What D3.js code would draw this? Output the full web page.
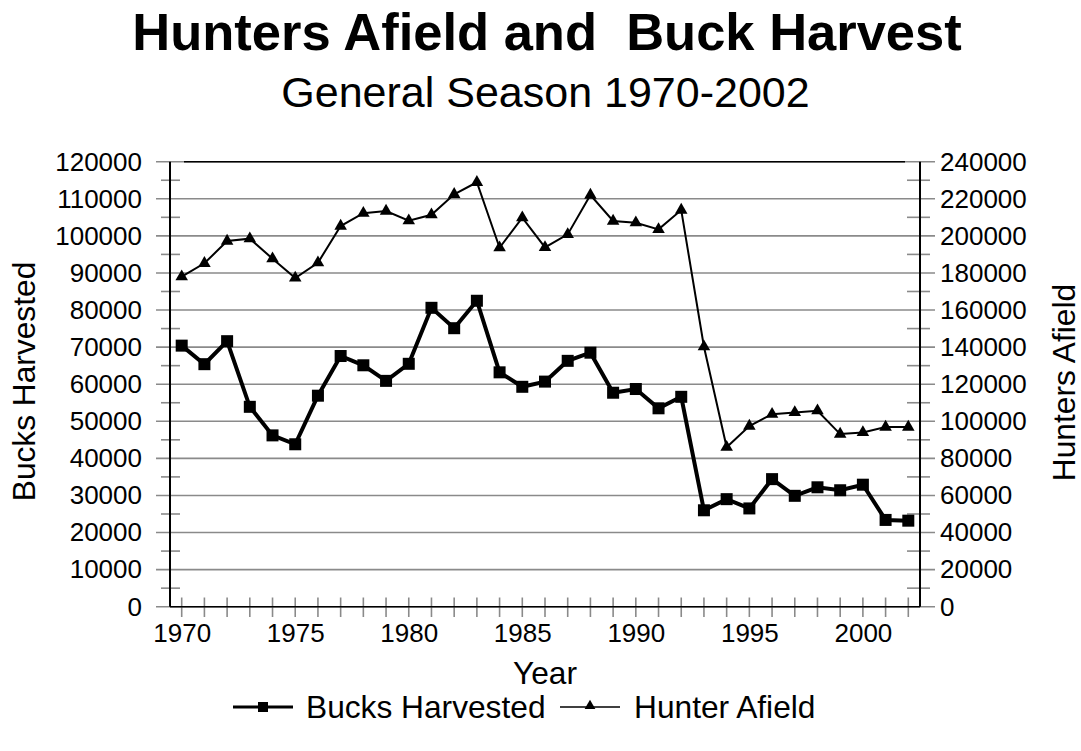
<!DOCTYPE html>
<html>
<head>
<meta charset="utf-8">
<script src="https://cdn.jsdelivr.net/npm/d3@7"></script>
<style>
  html, body { margin: 0; padding: 0; background: #fff; }
  svg { display: block; font-family: "Liberation Sans", Arial, sans-serif; }
  text { white-space: pre; }
</style>
</head>
<body>
<svg id="chart" width="1081" height="751"></svg>
<script>
// ---- data ----
const years = d3.range(1970, 2003);
const bucksHarvested = [70400, 65400, 71600, 53900, 46200, 43800, 56900, 67600, 65100, 60900,
                        65500, 80600, 75100, 82500, 63200, 59300, 60700, 66300, 68500, 57700,
                        58700, 53500, 56600, 26000, 29000, 26500, 34400, 29900, 32200, 31400,
                        32900, 23400, 23200];
const huntersAfield = [178000, 185200, 197200, 198500, 187700, 177300, 185500, 205300, 212200, 213400,
                       208200, 211400, 222400, 228900, 193600, 209800, 193800, 200800, 222000, 208000,
                       207100, 203500, 213900, 140200, 86000, 97400, 103800, 104800, 105700, 93100,
                       94000, 96900, 96900];
const leftTicks = d3.range(0, 120001, 10000);
const leftMinor = d3.range(5000, 120000, 10000);
const rightTicks = d3.range(0, 240001, 20000);
const rightMinor = d3.range(10000, 240000, 20000);
const yearLabels = [1970, 1975, 1980, 1985, 1990, 1995, 2000];
const titleText = "Hunters Afield and  Buck Harvest";
const subtitleText = "General Season 1970-2002";
const seriesNames = ["Bucks Harvested", "Hunter Afield"];

// ---- layout ----
const svg = d3.select("#chart");
const axL = 170, axR = 920, plotTop = 161.7, plotBottom = 606.7;
const x = d3.scaleLinear().domain([1970, 2002]).range([181.7, 908.3]);
const yL = d3.scaleLinear().domain([0, 120000]).range([plotBottom, plotTop]);
const yR = d3.scaleLinear().domain([0, 240000]).range([plotBottom, plotTop]);
const grey = "#8a8a8a";

// titles
svg.append("text").attr("x", 547).attr("y", 50).attr("text-anchor", "middle")
  .attr("xml:space", "preserve")
  .attr("font-size", 52.5).attr("font-weight", "bold").text(titleText);
svg.append("text").attr("x", 545.5).attr("y", 107).attr("text-anchor", "middle")
  .attr("font-size", 43).text(subtitleText);

// gridlines
svg.append("g").selectAll("line").data(leftTicks).join("line")
  .attr("x1", 156).attr("x2", 935)
  .attr("y1", d => yL(d)).attr("y2", d => yL(d))
  .attr("stroke", grey).attr("stroke-width", 1.6);

// top frame line
svg.append("line").attr("x1", 184).attr("x2", 905).attr("y1", plotTop).attr("y2", plotTop)
  .attr("stroke", "#000").attr("stroke-width", 1.6);

// minor ticks
svg.append("g").selectAll("line").data(leftMinor).join("line")
  .attr("x1", 161).attr("x2", 180)
  .attr("y1", d => yL(d)).attr("y2", d => yL(d))
  .attr("stroke", grey).attr("stroke-width", 1.6);
svg.append("g").selectAll("line").data(rightMinor).join("line")
  .attr("x1", 907).attr("x2", 930)
  .attr("y1", d => yR(d)).attr("y2", d => yR(d))
  .attr("stroke", grey).attr("stroke-width", 1.6);

// x year ticks
svg.append("g").selectAll("line").data(years).join("line")
  .attr("x1", d => x(d)).attr("x2", d => x(d))
  .attr("y1", 597.5).attr("y2", 617)
  .attr("stroke", grey).attr("stroke-width", 1.6);

// axis lines
svg.append("line").attr("x1", axL).attr("x2", axL).attr("y1", plotTop).attr("y2", plotBottom)
  .attr("stroke", "#000").attr("stroke-width", 2);
svg.append("line").attr("x1", axR).attr("x2", axR).attr("y1", plotTop).attr("y2", plotBottom)
  .attr("stroke", "#000").attr("stroke-width", 2);
svg.append("line").attr("x1", axL).attr("x2", axR).attr("y1", plotBottom).attr("y2", plotBottom)
  .attr("stroke", "#000").attr("stroke-width", 1.6);

// axis labels via d3 axes
const gl = svg.append("g").attr("transform", `translate(${axL},0)`)
  .call(d3.axisLeft(yL).tickValues(leftTicks).tickSize(0).tickPadding(28).tickFormat(d3.format("d")));
const gr = svg.append("g").attr("transform", `translate(${axR},0)`)
  .call(d3.axisRight(yR).tickValues(rightTicks).tickSize(0).tickPadding(20).tickFormat(d3.format("d")));
const gb = svg.append("g").attr("transform", `translate(0,${plotBottom})`)
  .call(d3.axisBottom(x).tickValues(yearLabels).tickSize(0).tickPadding(16.5).tickFormat(d3.format("d")));
[gl, gr, gb].forEach(g => {
  g.select(".domain").remove();
  g.selectAll("text").attr("font-size", 26).attr("fill", "#000")
    .attr("font-family", "'Liberation Sans', Arial, sans-serif");
});

// axis titles
svg.append("text").attr("transform", "translate(35,381.5) rotate(-90)")
  .attr("text-anchor", "middle").attr("font-size", 31.7).text("Bucks Harvested");
svg.append("text").attr("transform", "translate(1075,382.5) rotate(-90)")
  .attr("text-anchor", "middle").attr("font-size", 31.7).text("Hunters Afield");
svg.append("text").attr("x", 545).attr("y", 684)
  .attr("text-anchor", "middle").attr("font-size", 31.7).text("Year");

// series
const lineB = d3.line().x((d, i) => x(years[i])).y(d => yL(d));
const lineH = d3.line().x((d, i) => x(years[i])).y(d => yR(d));
svg.append("path").datum(huntersAfield).attr("d", lineH)
  .attr("fill", "none").attr("stroke", "#000").attr("stroke-width", 2);
svg.append("path").datum(bucksHarvested).attr("d", lineB)
  .attr("fill", "none").attr("stroke", "#000").attr("stroke-width", 4).attr("stroke-linejoin", "miter");

const tri = d3.symbol().type(d3.symbolTriangle).size(68);
svg.append("g").selectAll("path").data(huntersAfield).join("path")
  .attr("transform", (d, i) => `translate(${x(years[i])},${yR(d)})`)
  .attr("d", tri).attr("fill", "#000");
svg.append("g").selectAll("rect").data(bucksHarvested).join("rect")
  .attr("x", (d, i) => x(years[i]) - 6).attr("y", d => yL(d) - 6)
  .attr("width", 12).attr("height", 12).attr("fill", "#000");

// legend
const lg = svg.append("g");
lg.append("line").attr("x1", 233).attr("x2", 293).attr("y1", 707).attr("y2", 707)
  .attr("stroke", "#000").attr("stroke-width", 3);
lg.append("rect").attr("x", 258).attr("y", 702).attr("width", 10).attr("height", 10).attr("fill", "#000");
lg.append("text").attr("x", 306).attr("y", 718).attr("font-size", 31.7).text(seriesNames[0]);
lg.append("line").attr("x1", 560).attr("x2", 620).attr("y1", 707).attr("y2", 707)
  .attr("stroke", "#000").attr("stroke-width", 1.6);
lg.append("path").attr("transform", "translate(590,706)")
  .attr("d", d3.symbol().type(d3.symbolTriangle).size(50)).attr("fill", "#000");
lg.append("text").attr("x", 634).attr("y", 718).attr("font-size", 31.7).text(seriesNames[1]);
</script>
</body>
</html>
